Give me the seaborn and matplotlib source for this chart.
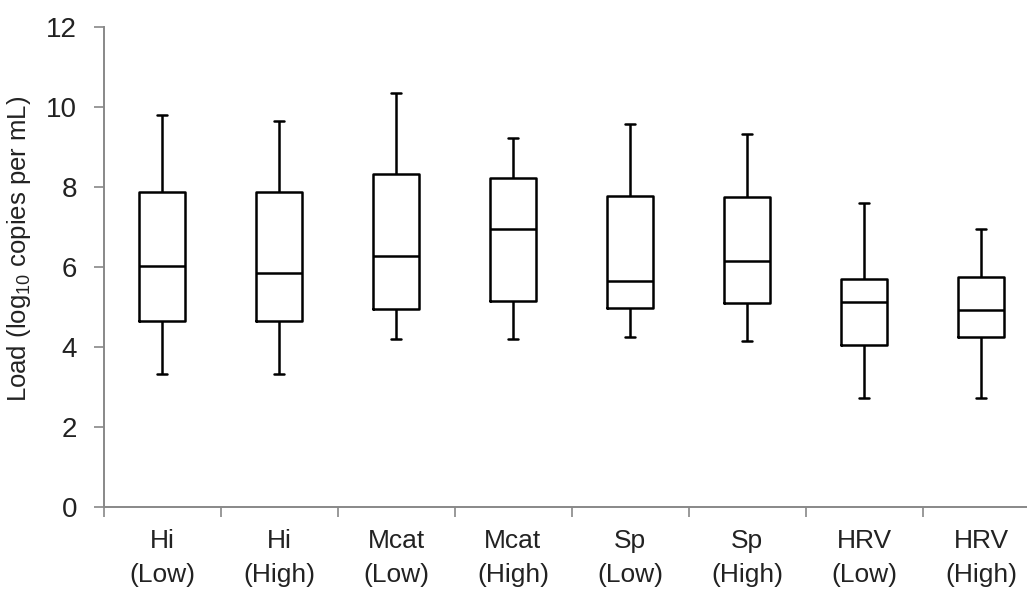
import numpy as np
import pandas as pd
import matplotlib
matplotlib.use("Agg")
import matplotlib.pyplot as plt
import seaborn as sns

# five-number summaries
groups = ["Hi\n(Low)", "Hi\n(High)", "Mcat\n(Low)", "Mcat\n(High)",
          "Sp\n(Low)", "Sp\n(High)", "HRV\n(Low)", "HRV\n(High)"]
mins = [3.32, 3.32, 4.20, 4.20, 4.25, 4.16, 2.72, 2.72]
q1s = [4.65, 4.65, 4.94, 5.15, 4.98, 5.09, 4.05, 4.25]
medians = [6.02, 5.86, 6.27, 6.94, 5.64, 6.14, 5.13, 4.93]
q3s = [7.87, 7.87, 8.32, 8.23, 7.78, 7.74, 5.69, 5.75]
maxs = [9.80, 9.66, 10.34, 9.22, 9.57, 9.32, 7.61, 6.94]

# build a long table: five values per group give exactly these quartiles
rows = []
for g, a, b, c, d, e in zip(groups, mins, q1s, medians, q3s, maxs):
    for v in (a, b, c, d, e):
        rows.append({"group": g, "load": v})
df = pd.DataFrame(rows)

sns.set_style("ticks")
plt.rcParams["font.family"] = ["Liberation Sans", "DejaVu Sans"]
plt.rcParams["mathtext.fontset"] = "custom"
plt.rcParams["mathtext.rm"] = "Liberation Sans"
plt.rcParams["mathtext.it"] = "Liberation Sans:italic"

fig = plt.figure(figsize=(10.27, 5.94), dpi=100)
ax = fig.add_axes([103.5 / 1027, 87 / 594, 936 / 1027, 480 / 594])

sns.boxplot(data=df, x="group", y="load", order=groups, ax=ax,
            fill=False, color="black", linewidth=1.8, width=0.4,
            whis=(0, 100), capwidths=0.085)

ax.set_ylim(0, 12)
ax.set_xlim(-0.5, len(groups) - 0.5)
ax.set_yticks(np.arange(0, 13, 2))
ax.set_xlabel("")
ax.set_ylabel("Load (log$_{10}$ copies per mL)", fontsize=18.5, color="#222222")
ax.yaxis.set_label_coords(-0.075, 0.537)

sns.despine(ax=ax)
for s in ("left", "bottom"):
    ax.spines[s].set_color("#888888")
    ax.spines[s].set_linewidth(1.4)

# labels at the centres, tick marks between categories
ax.set_xticks(np.arange(len(groups)))
ax.set_xticklabels(groups, linespacing=1.5)
ax.set_xticks(np.arange(-0.5, len(groups)), minor=True)
ax.tick_params(axis="x", which="major", length=0, pad=16, labelsize=19,
               labelcolor="#222222")
ax.tick_params(axis="x", which="minor", length=7, width=1.2, color="#888888")
ax.tick_params(axis="y", length=7, width=1.2, color="#888888", pad=12,
               labelsize=20, labelcolor="#222222")

fig.savefig("out.png", dpi=100)
